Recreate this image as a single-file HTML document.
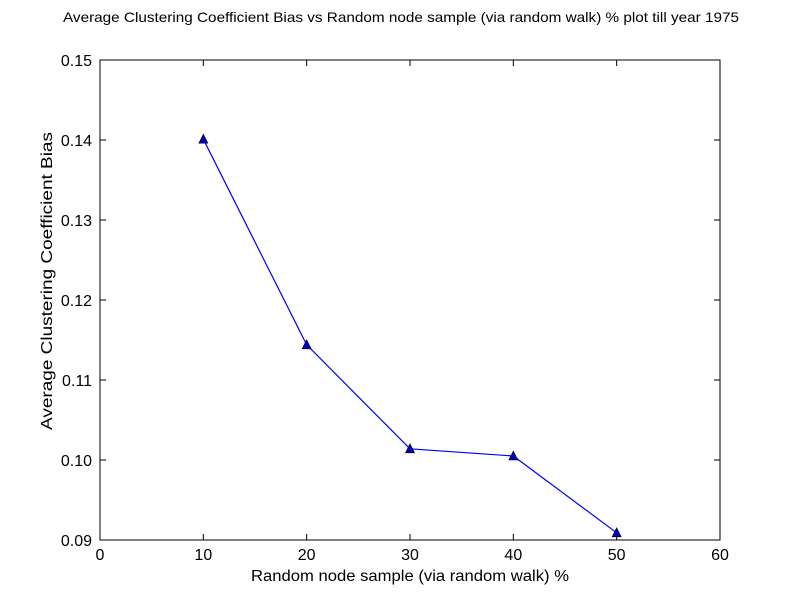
<!DOCTYPE html>
<html>
<head>
<meta charset="utf-8">
<style>
body{margin:0;background:#fff;}
svg{display:block;font-family:"Liberation Sans",Arial,sans-serif;}
</style>
</head>
<body>
<svg id="chart" width="800" height="600">
  <rect width="800" height="600" fill="#fff"/>
  <text x="401" y="22" text-anchor="middle" font-size="14" textLength="676" lengthAdjust="spacingAndGlyphs">Average Clustering Coefficient Bias vs Random node sample (via random walk) % plot till year 1975</text>
  <g id="ticks"></g>
  <g id="series"></g>
  <rect x="100" y="60" width="620" height="480" fill="none" stroke="#000" stroke-width="1"/>
  <text x="410" y="581" text-anchor="middle" font-size="16" textLength="318" lengthAdjust="spacingAndGlyphs">Random node sample (via random walk) %</text>
  <text transform="translate(52,281) rotate(-90)" text-anchor="middle" font-size="16" textLength="298" lengthAdjust="spacingAndGlyphs">Average Clustering Coefficient Bias</text>
</svg>
<script>
const xValues = [10, 20, 30, 40, 50];
const yValues = [0.1401, 0.1144, 0.1014, 0.1005, 0.0909];
const xTickLabels = ["0", "10", "20", "30", "40", "50", "60"];
const yTickLabels = ["0.09", "0.10", "0.11", "0.12", "0.13", "0.14", "0.15"];

const X0 = 100, X1 = 720, Y0 = 540, Y1 = 60;
const xMin = 0, xMax = 60, yMin = 0.09, yMax = 0.15;
const sx = v => X0 + (v - xMin) / (xMax - xMin) * (X1 - X0);
const sy = v => Y0 - (v - yMin) / (yMax - yMin) * (Y0 - Y1);
const NS = "http://www.w3.org/2000/svg";
const ticks = document.getElementById("ticks");
const series = document.getElementById("series");

function mk(tag, attrs, parent) {
  const e = document.createElementNS(NS, tag);
  for (const k in attrs) e.setAttribute(k, attrs[k]);
  parent.appendChild(e);
  return e;
}

xTickLabels.forEach(t => {
  const x = sx(parseFloat(t));
  const l1 = mk("line", {x1: x, x2: x, y1: Y0, y2: Y0 - 6, stroke: "#000"}, ticks);
  
  
  const l2 = mk("line", {x1: x, x2: x, y1: Y1, y2: Y1 + 6, stroke: "#000"}, ticks);
  
  
  const tx = mk("text", {x: x, y: Y0 + 20, "text-anchor": "middle", "font-size": "16"}, ticks);
  tx.textContent = t;
  
  
});

yTickLabels.forEach(t => {
  const y = sy(parseFloat(t));
  const l1 = mk("line", {x1: X0, x2: X0 + 6, y1: y, y2: y, stroke: "#000"}, ticks);
  
  
  const l2 = mk("line", {x1: X1, x2: X1 - 6, y1: y, y2: y, stroke: "#000"}, ticks);
  
  
  const tx = mk("text", {x: X0 - 8, y: y + 6, "text-anchor": "end", "font-size": "16"}, ticks);
  tx.textContent = t;
  
  
});

const pts = xValues.map((v, i) => sx(v) + "," + sy(yValues[i])).join(" ");
const line = mk("polyline", {points: pts, fill: "none", stroke: "#0000ff", "stroke-width": "1.2"}, series);



xValues.forEach((v, i) => {
  const x = sx(v), y = sy(yValues[i]);
  const m = mk("polygon", {points: `${x},${y-5} ${x-4.5},${y+4} ${x+4.5},${y+4}`, fill: "#0000bf", stroke: "#000", "stroke-width": "0.6"}, series);
  
  
});
</script>
</body>
</html>
